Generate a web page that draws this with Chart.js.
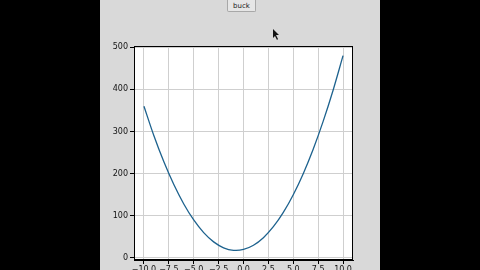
<!DOCTYPE html>
<html>
<head>
<meta charset="utf-8">
<script src="https://cdn.jsdelivr.net/npm/chart.js@4/dist/chart.umd.min.js"></script>
<style>
    body { margin: 0; width: 480px; height: 270px; background: #000; overflow: hidden; position: relative; }
    #panel { position: absolute; left: 100px; top: 0; width: 280px; height: 270px; background: #d9d9d9; overflow: hidden; }
    #buck { position: absolute; left: 127px; top: 0; width: 29px; height: 12px; padding: 0; font: 7px "DejaVu Sans", sans-serif; color: #222; background: #e6e6e6; border: 1px solid #a8a8a8; border-top: none; border-radius: 0 0 2px 2px; }
    #cursor { position: absolute; left: 172px; top: 29px; }
    #box { position: absolute; left: 0; top: 30px; width: 280px; height: 260px; }
</style>
</head>
<body>
<div id="panel">
    <button id="buck">buck</button>
    <svg id="cursor" width="8" height="12"><polygon points="1,0 1,9 3,7 5,11 6,10 4,6 7,6" fill="#111" /></svg>
    <div id="box"><canvas id="myChart"></canvas></div>
</div>
<script>
// values
const xValues = [-10, -9, -8, -7, -6, -5, -4, -3, -2, -1, 0, 1, 2, 3, 4, 5, 6, 7, 8, 9, 10];
const yValues = [360, 290, 228, 174, 128, 90, 60, 38, 24, 18, 20, 30, 48, 74, 108, 150, 200, 258, 324, 398, 480];
const xTicks = [-10, -7.5, -5, -2.5, 0, 2.5, 5, 7.5, 10];
const yTicks = [0, 100, 200, 300, 400, 500];

const points = xValues.map(function (x, i) { return { x: x, y: yValues[i] }; });

// top and right spines + white plot background
const frame = {
    id: 'frame',
    beforeDraw: function (chart) {
        var a = chart.chartArea, ctx = chart.ctx;
        ctx.save();
        ctx.fillStyle = '#fff';
        ctx.fillRect(a.left, a.top, a.right - a.left, a.bottom - a.top);
        ctx.restore();
    },
    afterDraw: function (chart) {
        var a = chart.chartArea, ctx = chart.ctx;
        ctx.save();
        ctx.strokeStyle = '#000';
        ctx.lineWidth = 1;
        ctx.strokeRect(a.left + 0.5, a.top + 0.5, a.right - a.left - 1, a.bottom - a.top - 1);
        ctx.restore();
    }
};

function fmt(v) {
    var s = v.toFixed(1);
    return s.replace('-', '\u2212');
}

const config = {
    type: 'line',
    data: {
        datasets: [{
            data: points,
            borderColor: '#1d628e',
            borderWidth: 1.3,
            pointRadius: 0,
            tension: 0.35,
            fill: false
        }]
    },
    options: {
        responsive: true,
        maintainAspectRatio: false,
        animation: false,
        layout: { padding: { top: 16, right: 27, left: 0, bottom: 0 } },
        plugins: { legend: { display: false }, tooltip: { enabled: false } },
        scales: {
            x: {
                type: 'linear',
                min: -11,
                max: 11,
                afterBuildTicks: function (scale) { scale.ticks = xTicks.map(function (v) { return { value: v }; }); },
                afterFit: function (scale) { scale.height = 30; },
                grid: { color: '#cfcfcf', lineWidth: 1, tickColor: '#000', tickLength: 4 },
                border: { color: '#000', width: 1 },
                ticks: {
                    autoSkip: false, maxRotation: 0, padding: 1,
                    color: '#111', font: { family: 'DejaVu Sans', size: 8 },
                    callback: function (v) { return fmt(v); }
                }
            },
            y: {
                min: -5,
                max: 503,
                afterBuildTicks: function (scale) { scale.ticks = yTicks.map(function (v) { return { value: v }; }); },
                afterFit: function (scale) { scale.width = 34; },
                grid: { color: '#cfcfcf', lineWidth: 1, tickColor: '#000', tickLength: 4 },
                border: { color: '#000', width: 1 },
                ticks: {
                    padding: 2, color: '#111', font: { family: 'DejaVu Sans', size: 8 },
                    callback: function (v) { return String(v); }
                }
            }
        }
    },
    plugins: [frame]
};

const myChart = new Chart(document.getElementById('myChart'), config);
</script>
</body>
</html>
